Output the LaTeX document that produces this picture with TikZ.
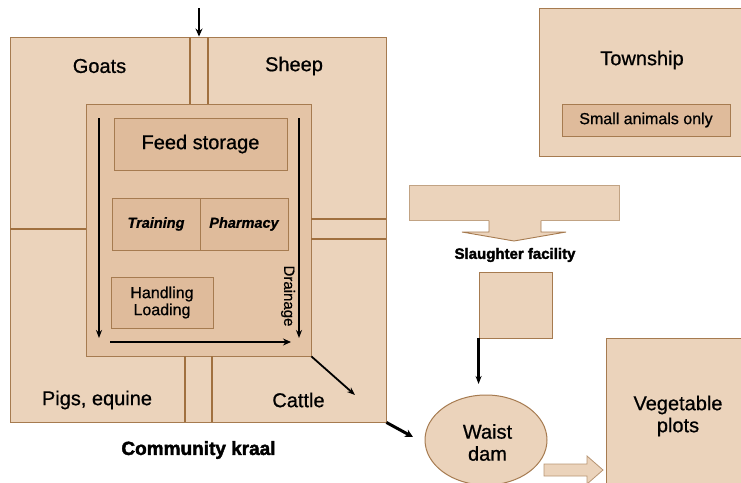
\documentclass[tikz,border=0pt]{standalone}
\usepackage{fontspec}
\setmainfont{Liberation Sans}[FakeBold=0.7]
\newfontfamily\heavyfont{Liberation Sans}[FakeBold=2.2]
\usetikzlibrary{arrows.meta,shapes.geometric,calc}
\definecolor{peach}{HTML}{EBD3BB}
\definecolor{tanA}{HTML}{E4C4A6}
\definecolor{tanB}{HTML}{DFBB9B}
\definecolor{brd}{HTML}{A67B50}
\definecolor{wallc}{HTML}{A0703F}
\tikzset{
  area/.style={draw=brd, fill=peach, line width=0.9pt, inner sep=0pt},
  roomA/.style={draw=brd, fill=tanA, line width=0.9pt, inner sep=0pt},
  roomB/.style={draw=brd, fill=tanB, line width=0.9pt, inner sep=0pt},
  wall/.style={draw=wallc, line width=2.2pt},
  big/.style={font=\fontsize{20}{22}\selectfont, align=center, inner sep=0pt},
  mid/.style={font=\fontsize{16}{17}\selectfont, align=center, inner sep=0pt},
  bi/.style={font=\fontsize{14.5}{16}\selectfont\bfseries\itshape},
  heavy/.style={font=\fontsize{19}{21}\heavyfont\selectfont\bfseries, inner sep=0pt},
  flow/.style={-{Stealth[length=8pt,width=7pt]}, line width=2pt, black},
  thinflow/.style={-{Stealth[length=8pt,width=6pt]}, line width=1.8pt, black}
}
\begin{document}
\begin{tikzpicture}[x=1pt,y=-1pt]
\useasboundingbox (0,0) rectangle (741,482);
\clip (0,0) rectangle (741,482);
% community kraal
\node[area, minimum width=376pt, minimum height=385pt] (kraal) at (198,229.5) {};
\node[roomA, minimum width=225pt, minimum height=252pt] (inner) at (198.5,230) {};
% corridors
\draw[wall] (190,37) -- (190,104);
\draw[wall] (208,37) -- (208,104);
\draw[wall] (185,356) -- (185,422);
\draw[wall] (212,356) -- (212,422);
\draw[wall] (10,229) -- (86,229);
\draw[wall] (311,219) -- (386,219);
\draw[wall] (311,239) -- (386,239);
% rooms
\node[roomB, minimum width=173pt, minimum height=52pt, big] (feed) at (200.5,144) {Feed storage};
\node[roomB, minimum width=88pt, minimum height=52pt, bi] (train) at (156,224) {Training};
\node[roomB, minimum width=88pt, minimum height=52pt, bi] (pharm) at (244,224) {Pharmacy};
\node[roomB, minimum width=102pt, minimum height=51pt, mid] (handl) at (162,302.5) {Handling\\Loading};
\node[font=\fontsize{15}{16}\selectfont, rotate=-90, inner sep=0pt] (drain) at (288,296) {Drainage};
% inner flow arrows
\coordinate (l1) at (99,118); \coordinate (l2) at (99,338);
\coordinate (r1) at (299,118); \coordinate (r2) at (299,338);
\coordinate (b1) at (110,342); \coordinate (b2) at (291,342);
\draw[thinflow] (l1) -- (l2);
\draw[thinflow] (r1) -- (r2);
\draw[flow, line width=2.4pt] (b1) -- (b2);
% pen labels
\node[big] (goats) at (99.5,66) {Goats};
\node[big] (sheep) at (294,66) {Sheep};
\node[big] (pigs) at (97,400) {Pigs, equine};
\node[big] (cattle) at (298.5,400) {Cattle};
\node[heavy] (kraallbl) at (198.5,450) {Community kraal};
% entry arrow
\coordinate (entry) at (199,8);
\draw[flow, line width=2.2pt] (entry) -- (entry |- kraal.north);
% exits
\coordinate (cattleout) at (355,395);
\draw[thinflow] (inner.south east) -- (cattleout);
\coordinate (kraalout) at (413,437);
\draw[-{Stealth[length=8pt,width=8pt]}, line width=3pt] (kraal.south east) -- (kraalout);
% township
\node[area, minimum width=210pt, minimum height=148pt] (town) at (644,82) {};
\node[big] (townlbl) at (642,60) {Township};
\node[roomB, minimum width=168pt, minimum height=32pt, mid] (small) at (646,120) {Small animals only};
% slaughter facility block arrow
\node[area, draw=brd!70, minimum width=210pt, minimum height=35pt] (slrect) at (514,202.5) {};
\path[fill=peach] (489,219) -- (489,232) -- (462,232) -- (514,241) -- (566,232) -- (541,232) -- (541,219) -- cycle;
\draw[brd, line width=0.9pt] (489,220.5) -- (489,232) -- (462,232) -- (514,241) -- (566,232) -- (541,232) -- (541,220.5);
\node[font=\fontsize{15}{16}\heavyfont\selectfont\bfseries, inner sep=0pt] (sllbl) at (515,255) {Slaughter facility};
\node[area, minimum width=73pt, minimum height=66pt] (sq) at (515.5,305) {};
\coordinate (damin) at (sq.south west |- 0,384);
\draw[thinflow, line width=2.2pt] (sq.south west) -- (damin);
% waist dam
\node[ellipse, draw=brd, fill=peach, line width=1pt, minimum width=122pt, minimum height=90pt, inner sep=0pt] (dam) at (486,440) {};
\node[big] (damlbl) at (487.5,442.5) {Waist\\dam};
% vegetable plots
\node[area, minimum width=141pt, minimum height=152pt] (veg) at (676.5,414) {};
\node[big] (veglbl) at (678,416) {Vegetable\\plots};
% block arrow to vegetable plots
\draw[fill=peach, draw=brd!80, line width=0.8pt] (544,464) -- (587,464) -- (587,456) -- (603,470) -- (587,484) -- (587,476) -- (544,476) -- cycle;
\end{tikzpicture}
\end{document}
